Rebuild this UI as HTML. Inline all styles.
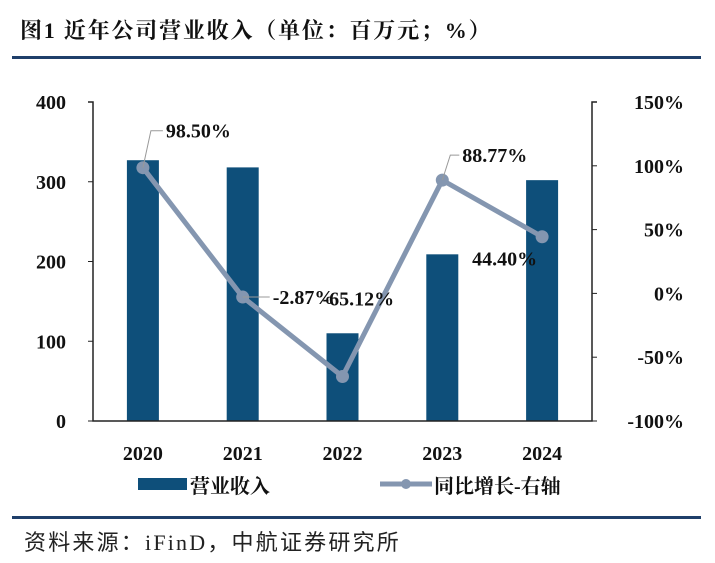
<!DOCTYPE html>
<html><head><meta charset="utf-8"><style>
body{margin:0;background:#fff;width:715px;height:558px;overflow:hidden;font-family:"Liberation Serif","Noto Serif CJK SC",serif;}
</style></head><body>
<svg width="715" height="558" xmlns="http://www.w3.org/2000/svg">
<text x="20" y="38" font-size="22" font-weight="bold" fill="#111" letter-spacing="1.8">图1  近年公司营业收入（单位：百万元；%）</text>
<rect x="12" y="56" width="689" height="3" fill="#1f3f6a"/>
<g id="plot"></g>
<rect x="12" y="516" width="689" height="3" fill="#1f3f6a"/>
<text x="24" y="550" font-size="22" fill="#222" letter-spacing="2.2" font-family="Liberation Serif,Noto Sans CJK SC,sans-serif">资料来源：iFinD，中航证券研究所</text>
<rect x="138" y="478" width="49" height="12" fill="#0e4f7a"/>
<text x="190" y="493" font-size="20" font-weight="bold" fill="#111">营业收入</text>
<line x1="380" y1="484" x2="432" y2="484" stroke="#8496b0" stroke-width="5"/>
<circle cx="406" cy="484" r="5" fill="#8496b0"/>
<text x="434" y="493" font-size="20" font-weight="bold" fill="#111">同比增长-右轴</text>
</svg>
<script>
const categories=["2020","2021","2022","2023","2024"];
const revenue=[327,318,110,209,302];
const growth=[98.50,-2.87,-65.12,88.77,44.40];
const growthLabels=["98.50%","-2.87%","-65.12%","88.77%","44.40%"];
const leftTicks=[0,100,200,300,400];
const rightTicks=[-100,-50,0,50,100,150];
const NS="http://www.w3.org/2000/svg";
const g=document.getElementById('plot');
const X0=93,X1=592,Y0=421,Y1=102;
const bw=(X1-X0)/categories.length;
const xc=i=>X0+bw*(i+0.5);
const yL=v=>Y0-(v/400)*(Y0-Y1);
const yR=v=>Y0-((v+100)/250)*(Y0-Y1);
function mk(t,a){const e=document.createElementNS(NS,t);for(const k in a)e.setAttribute(k,a[k]);g.appendChild(e);return e;}
revenue.forEach((v,i)=>{const r=mk('rect',{x:xc(i)-16,y:yL(v),width:32,height:Y0-yL(v),fill:'#0e4f7a'});

});
let a=mk('path',{d:`M${X0-5},${Y1}H${X0}V${Y0}H${X1}V${Y1}H${X1+5}`,fill:'none',stroke:'#222','stroke-width':1.5});


leftTicks.forEach(v=>{mk('line',{x1:X0-5,x2:X0,y1:yL(v),y2:yL(v),stroke:'#222'});
const t=mk('text',{x:X0-27,y:yL(v)+7,'font-size':20,'font-weight':'bold','text-anchor':'end',fill:'#111'});t.textContent=v;

});
rightTicks.forEach(v=>{mk('line',{x1:X1,x2:X1+5,y1:yR(v),y2:yR(v),stroke:'#222'});
const t=mk('text',{x:684,y:yR(v)+7,'font-size':20,'font-weight':'bold','text-anchor':'end',fill:'#111'});t.textContent=v+'%';

});
categories.forEach((c,i)=>{const t=mk('text',{x:xc(i),y:460,'font-size':20,'font-weight':'bold','text-anchor':'middle',fill:'#111'});t.textContent=c;

});
const pl=mk('polyline',{points:growth.map((v,i)=>xc(i)+','+yR(v)).join(' '),fill:'none',stroke:'#8496b0','stroke-width':5,'stroke-linejoin':'round'});


const offs=[[23,-37],[30,0],[-20,-78],[20,-25],[-70,22]];
growth.forEach((v,i)=>{const c=mk('circle',{cx:xc(i),cy:yR(v),r:6.5,fill:'#8496b0'});


const px=xc(i),py=yR(v),lx=px+offs[i][0],ly=py+offs[i][1];
if(i===0||i===3){mk('polyline',{points:`${px},${py} ${px+8},${ly} ${lx-3},${ly}`,fill:'none',stroke:'#999','stroke-width':1});}
if(i===1){mk('line',{x1:px,y1:py,x2:lx-3,y2:py,stroke:'#999','stroke-width':1});}
const t=mk('text',{x:lx,y:ly+7,'font-size':20,'font-weight':'bold',fill:'#111'});t.textContent=growthLabels[i];

});
</script>
</body></html>
